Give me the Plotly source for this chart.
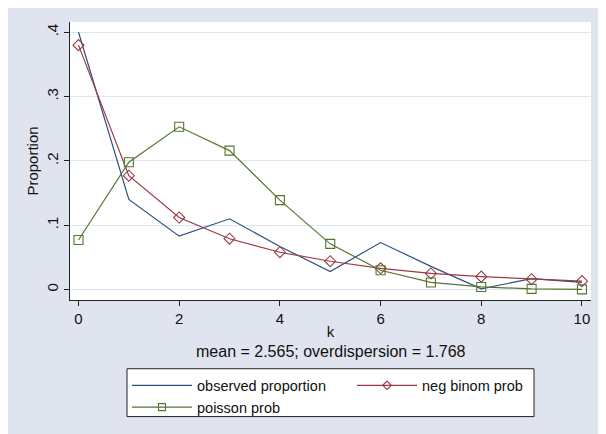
import plotly.graph_objects as go

k = [0, 1, 2, 3, 4, 5, 6, 7, 8, 9, 10]
observed = [0.400, 0.140, 0.083, 0.110, 0.067, 0.028, 0.073, 0.036, 0.001, 0.017, 0.011]
negbin = [0.380, 0.177, 0.112, 0.079, 0.058, 0.044, 0.033, 0.025, 0.020, 0.016, 0.013]
poisson = [0.077, 0.198, 0.253, 0.216, 0.139, 0.071, 0.030, 0.011, 0.004, 0.001, 0.0003]

y_ticks = [0, 0.1, 0.2, 0.3, 0.4]
y_ticktext = ["0", ".1", ".2", ".3", ".4"]
x_ticks = [0, 2, 4, 6, 8, 10]

note = "mean = 2.565; overdispersion = 1.768"

bg = "#dfe4ee"
font = dict(family="Liberation Sans, Arial", size=15, color="#111111")

series = [
    # name, values, colour, symbol, plot marker size, legend marker size
    ("observed proportion", observed, "#2b4f80", None, 0, 0),
    ("neg binom prob", negbin, "#9a3a44", "diamond-open", 8.5, 6.5),
    ("poisson prob", poisson, "#55752f", "square-open", 9, 7),
]

fig = go.Figure()

for name, vals, col, sym, msize, lsize in series:
    mode = "lines" if sym is None else "lines+markers"
    marker = None if sym is None else dict(symbol=sym, size=msize, color=col, line=dict(width=1.1))
    fig.add_trace(go.Scatter(
        x=k, y=vals, name=name, mode=mode, legendgroup=name, showlegend=False,
        line=dict(color=col, width=1.2), marker=marker
    ))
    # legend key with smaller marker, like Stata's keys
    lmarker = None if sym is None else dict(symbol=sym, size=lsize, color=col, line=dict(width=1.1))
    fig.add_trace(go.Scatter(
        x=[None], y=[None], name=name, mode=mode, legendgroup=name,
        line=dict(color=col, width=1.2), marker=lmarker
    ))

# legend box
fig.add_shape(type="rect", xref="paper", yref="paper", layer="below",
              x0=0.1094, x1=0.8906, y0=-0.4194, y1=-0.2473,
              fillcolor="white", line=dict(width=1, color="#222222"))

fig.add_annotation(text=note, xref="paper", yref="paper", x=0.5, y=-0.186,
                   xanchor="center", yanchor="middle", showarrow=False,
                   font=dict(family="Liberation Sans, Arial", size=16, color="#111111"))

# page has an 8px body margin, so the figure is 8px smaller than the window
fig.update_layout(
    width=598, height=426,
    margin=dict(l=62, r=15, t=14, b=133),
    paper_bgcolor=bg,
    plot_bgcolor="white",
    font=font,
    showlegend=True,
    legend=dict(
        orientation="h", x=0.1094, xanchor="left", y=-0.245, yanchor="top",
        bgcolor="rgba(0,0,0,0)", borderwidth=0,
        entrywidth=150, entrywidthmode="pixels", itemwidth=60,
        font=dict(family="Liberation Sans, Arial", size=14.5, color="#111111"),
        tracegroupgap=0
    ),
    xaxis=dict(
        range=[-0.169, 10.18], tickvals=x_ticks, ticks="outside", ticklen=5,
        tickcolor="#222222", showline=True, linecolor="#222222", linewidth=1,
        showgrid=False, zeroline=False, automargin=True,
        title=dict(text="k", standoff=0, font=font)
    ),
    yaxis=dict(
        range=[-0.0163, 0.416], tickvals=y_ticks, ticktext=y_ticktext,
        tickangle=-90, ticks="outside", ticklen=5, tickcolor="#222222",
        ticklabelstandoff=0, automargin=True,
        showline=True, linecolor="#222222", linewidth=1,
        showgrid=True, gridcolor="#dde5ef", gridwidth=1, zeroline=False,
        title=dict(text="Proportion", standoff=1, font=font)
    ),
)

fig.write_html("out.html")
